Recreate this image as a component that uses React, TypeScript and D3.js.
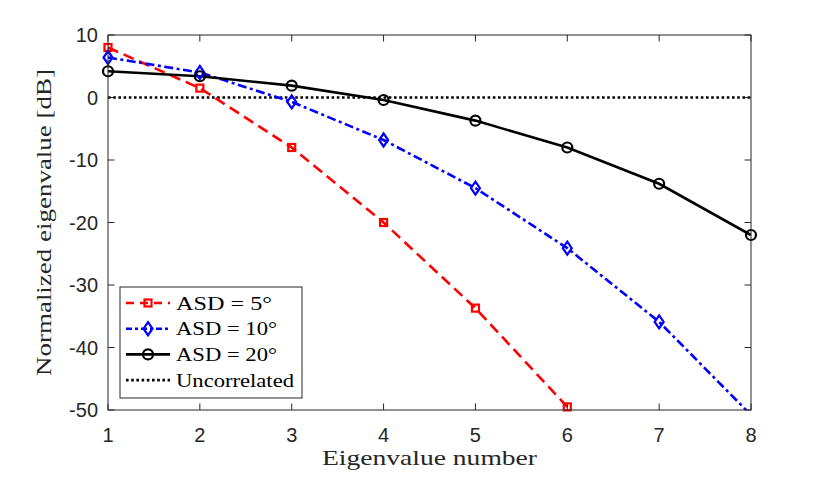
import React from "react";
import * as d3 from "d3";

// eigenvalue index on the x axis
const eigIndex = [1, 2, 3, 4, 5, 6, 7, 8];

// normalized eigenvalues in dB
const asd5 = [8.0, 1.5, -8.0, -20.0, -33.7, -49.5];
const asd10 = [6.4, 4.0, -0.7, -6.8, -14.5, -24.1, -35.9, -50.8];
const asd20 = [4.2, 3.4, 1.9, -0.4, -3.7, -8.0, -13.8, -22.0];
const uncorrelated = [0, 0];

const xTicks = [1, 2, 3, 4, 5, 6, 7, 8];
const yTicks = [10, 0, -10, -20, -30, -40, -50];

const legendLabels = ["ASD = 5°", "ASD = 10°", "ASD = 20°", "Uncorrelated"];
// the LaTeX font is wider than Times, so stretch to the measured widths
const legendWidths = [96, 101, 101, 118];

const W = 830,
  H = 479;
const margin = { top: 35, right: 79, bottom: 69, left: 108 };
const innerW = W - margin.left - margin.right;
const innerH = H - margin.top - margin.bottom;

const x = d3.scaleLinear().domain([1, 8]).range([0, innerW]);
const y = d3.scaleLinear().domain([-50, 10]).range([innerH, 0]);

const axisColor = "#262626";
const tickFont = "'Liberation Sans', Arial, sans-serif";
const serifFont = "'Liberation Serif', 'DejaVu Serif', serif";

interface Series {
  values: number[];
  color: string;
  dash: string;
  legendDash: string;
  marker: "square" | "diamond" | "circle";
}

const series: Series[] = [
  { values: asd5, color: "#ff0000", dash: "11,6", legendDash: "8,6", marker: "square" },
  { values: asd10, color: "#0000ff", dash: "9,3.5,3,3.5", legendDash: "6,3,3,3", marker: "diamond" },
  { values: asd20, color: "#000000", dash: "none", legendDash: "none", marker: "circle" },
];

const Marker = ({ kind, cx, cy, color }: { kind: string; cx: number; cy: number; color: string }) => {
  if (kind === "square")
    return <rect x={cx - 3.5} y={cy - 3.5} width={7} height={7} fill="none" stroke={color} strokeWidth={2.2} />;
  if (kind === "diamond")
    return (
      <path
        d={`M${cx},${cy - 6.5}L${cx + 4.5},${cy}L${cx},${cy + 6.5}L${cx - 4.5},${cy}Z`}
        fill="none"
        stroke={color}
        strokeWidth={2.2}
      />
    );
  return <circle cx={cx} cy={cy} r={5} fill="none" stroke={color} strokeWidth={2.2} />;
};

export default function App() {
  const line = d3
    .line<number>()
    .x((_, i) => x(eigIndex[i]))
    .y((d) => y(d));

  const legendX = 120,
    legendY = 287,
    legendW = 182,
    legendH = 111;

  return (
    <div style={{ position: "fixed", left: 0, top: 0 }}>
      <svg width={W} height={H} style={{ display: "block", background: "#fff" }}>
        <defs>
          <clipPath id="plotClip">
            <rect x={0} y={0} width={innerW} height={innerH} />
          </clipPath>
        </defs>
        <g transform={`translate(${margin.left},${margin.top})`}>
          <rect x={0} y={0} width={innerW} height={innerH} fill="#fff" />

          {/* data */}
          <g clipPath="url(#plotClip)">
            <line
              x1={x(1)}
              x2={x(8)}
              y1={y(uncorrelated[0])}
              y2={y(uncorrelated[1])}
              stroke="#000"
              strokeWidth={2.6}
              strokeDasharray="2.6,2.6"
            />
            {series.map((s, si) => (
              <path
                key={si}
                d={line(s.values) || ""}
                fill="none"
                stroke={s.color}
                strokeWidth={2.6}
                strokeDasharray={s.dash}
              />
            ))}
          </g>
          {series.map((s, si) =>
            s.values.map((v, i) =>
              v >= -50 && v <= 10 ? (
                <Marker key={`${si}-${i}`} kind={s.marker} cx={x(eigIndex[i])} cy={y(v)} color={s.color} />
              ) : null
            )
          )}

          {/* box and ticks */}
          <rect x={0} y={0} width={innerW} height={innerH} fill="none" stroke={axisColor} strokeWidth={1} />
          {xTicks.map((t) => (
            <g key={`xt${t}`}>
              <line x1={x(t)} x2={x(t)} y1={innerH} y2={innerH - 6.5} stroke={axisColor} />
              <line x1={x(t)} x2={x(t)} y1={0} y2={6.5} stroke={axisColor} />
              <text
                x={x(t)}
                y={innerH + 32}
                textAnchor="middle"
                fontFamily={tickFont}
                fontSize={20}
                fill={axisColor}
              >
                {t}
              </text>
            </g>
          ))}
          {yTicks.map((t) => (
            <g key={`yt${t}`}>
              <line x1={0} x2={6.5} y1={y(t)} y2={y(t)} stroke={axisColor} />
              <line x1={innerW} x2={innerW - 6.5} y1={y(t)} y2={y(t)} stroke={axisColor} />
              <text
                x={-10}
                y={y(t) + 7}
                textAnchor="end"
                fontFamily={tickFont}
                fontSize={20}
                fill={axisColor}
              >
                {t}
              </text>
            </g>
          ))}
        </g>

        {/* axis labels */}
        <text
          x={margin.left + innerW / 2}
          y={465}
          textAnchor="middle"
          fontFamily={serifFont}
          fontSize={21}
          textLength={215}
          lengthAdjust="spacingAndGlyphs"
          fill={axisColor}
        >
          Eigenvalue number
        </text>
        <text
          transform={`translate(51,${margin.top + innerH / 2}) rotate(-90)`}
          textAnchor="middle"
          fontFamily={serifFont}
          fontSize={21}
          textLength={307}
          lengthAdjust="spacingAndGlyphs"
          fill={axisColor}
        >
          Normalized eigenvalue [dB]
        </text>

        {/* legend */}
        <g>
          <rect x={legendX} y={legendY} width={legendW} height={legendH} fill="#fff" stroke={axisColor} strokeWidth={1} />
          {legendLabels.map((lab, i) => {
            const cy = legendY + 16 + i * 25.7;
            const s = series[i];
            return (
              <g key={lab}>
                {s ? (
                  <>
                    <line
                      x1={126}
                      x2={170}
                      y1={cy}
                      y2={cy}
                      stroke={s.color}
                      strokeWidth={2.6}
                      strokeDasharray={s.legendDash}
                    />
                    <Marker kind={s.marker} cx={148} cy={cy} color={s.color} />
                  </>
                ) : (
                  <line x1={126} x2={170} y1={cy} y2={cy} stroke="#000" strokeWidth={2.6} strokeDasharray="2.6,2.6" />
                )}
                <text
                  x={176}
                  y={cy + 6.5}
                  fontFamily={serifFont}
                  fontSize={19}
                  textLength={legendWidths[i]}
                  lengthAdjust="spacingAndGlyphs"
                  fill="#000"
                >
                  {lab}
                </text>
              </g>
            );
          })}
        </g>
      </svg>
    </div>
  );
}
